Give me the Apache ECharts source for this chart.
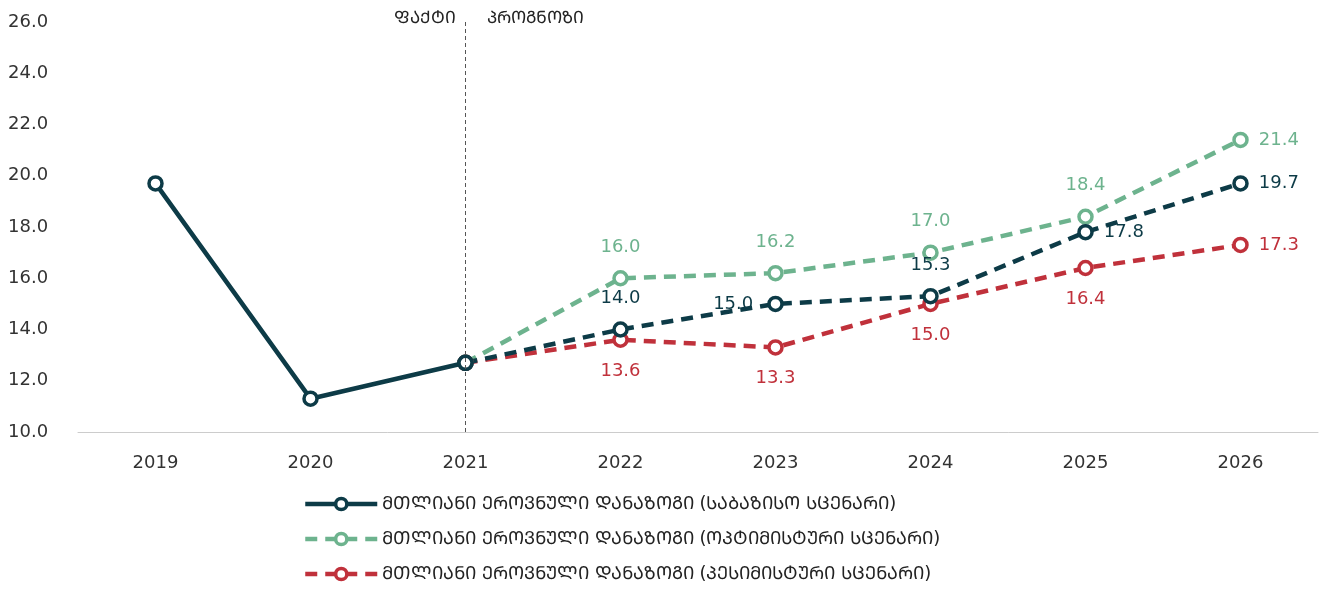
<!DOCTYPE html><html><head><meta charset="utf-8"><script src="https://cdn.jsdelivr.net/npm/echarts@6/dist/echarts.min.js"></script></head><body style="margin:0"><div id="c" style="width:1321px;height:595px"></div><script>
const years=['2019','2020','2021','2022','2023','2024','2025','2026'];
const baseFact=[19.7,11.3,12.7,null,null,null,null,null];
const baseFc=[null,null,12.7,14.0,15.0,15.3,17.8,19.7];
const optFc=[null,null,12.7,16.0,16.2,17.0,18.4,21.4];
const pesFc=[null,null,12.7,13.6,13.3,15.0,16.4,17.3];
const yTicks=[10,12,14,16,18,20,22,24,26];
const names=['ᲛᲗᲚᲘᲐᲜᲘ ᲔᲠᲝᲕᲜᲣᲚᲘ ᲓᲐᲜᲐᲖᲝᲒᲘ (ᲡᲐᲑᲐᲖᲘᲡᲝ ᲡᲪᲔᲜᲐᲠᲘ)','ᲛᲗᲚᲘᲐᲜᲘ ᲔᲠᲝᲕᲜᲣᲚᲘ ᲓᲐᲜᲐᲖᲝᲒᲘ (ᲝᲞᲢᲘᲛᲘᲡᲢᲣᲠᲘ ᲡᲪᲔᲜᲐᲠᲘ)','ᲛᲗᲚᲘᲐᲜᲘ ᲔᲠᲝᲕᲜᲣᲚᲘ ᲓᲐᲜᲐᲖᲝᲒᲘ (ᲞᲔᲡᲘᲛᲘᲡᲢᲣᲠᲘ ᲡᲪᲔᲜᲐᲠᲘ)'];
const C=['#0d3b47','#6db38e','#c0313b'];
const F='"DejaVu Sans", sans-serif';
function lab(arr,pos,col){return arr.map((v,i)=>{if(v==null||i<3)return v;const p=pos[i-3];return {value:v,label:{show:true,position:p,distance:p==='right'?10:14,color:col,fontSize:18,fontFamily:F,formatter:x=>x.value.toFixed(1)}};});}
const ser=(name,data,col,dash,show)=>({name,type:'line',data,symbol:'circle',symbolSize:13,showSymbol:show,itemStyle:{color:'#fff',borderColor:col,borderWidth:3.5},lineStyle:{color:col,width:4.5,type:dash?[12,8]:'solid'},z:dash?2:3});
const chart=echarts.init(document.getElementById('c'));
chart.setOption({animation:false,
grid:{left:78,right:3,top:22,bottom:163},
legend:{orient:'vertical',left:298,top:490,itemGap:17,itemWidth:72,itemHeight:14,data:names,lineStyle:{width:4.5},itemStyle:{borderWidth:3.5},textStyle:{fontSize:18,fontFamily:F,color:'#222'}},
xAxis:{type:'category',data:years,axisTick:{show:false},axisLine:{lineStyle:{color:'#ccc'}},axisLabel:{fontSize:18,fontFamily:F,color:'#333',margin:22}},
yAxis:{type:'value',min:10,max:26,interval:2,splitLine:{show:false},axisLabel:{fontSize:18,fontFamily:F,color:'#333',formatter:v=>v.toFixed(1),margin:70,align:'left'}},
series:[
Object.assign(ser(names[0],baseFact,C[0],false,true),{markLine:{silent:true,symbol:'none',lineStyle:{color:'#555',type:[4,3],width:1},label:{show:false},data:[[{coord:['2021',10]},{coord:['2021',26]}]]}}),
ser(names[1],lab(optFc,['top','top','top','top','right'],C[1]),C[1],true,true),
ser(names[2],lab(pesFc,['bottom','bottom','bottom','bottom','right'],C[2]),C[2],true,true),
ser('base-fc',lab(baseFc,['top','left','top','right','right'],C[0]),C[0],true,true)
],
graphic:[{type:'text',left:394,top:10,style:{text:'ᲤᲐᲥᲢᲘ',font:'17px '+F,fill:'#222'}},{type:'text',left:487,top:10,style:{text:'ᲞᲠᲝᲒᲜᲝᲖᲘ',font:'17px '+F,fill:'#222'}}]
});
</script></body></html>
